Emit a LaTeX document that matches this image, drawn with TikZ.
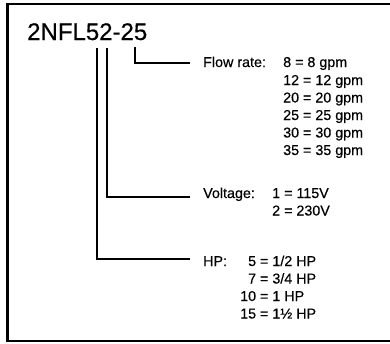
\documentclass[tikz,border=0pt]{standalone}
\usepackage{fontspec}
\setmainfont[FakeBold=0.4]{Liberation Sans}
\begin{document}
\begin{tikzpicture}[x=1pt,y=-1pt,
  lbl/.style={anchor=base west,inner sep=0pt,font=\fontsize{14.3}{17}\selectfont},
  conn/.style={line width=1.5pt},
  frame/.style={line width=2.5pt}]
\useasboundingbox (0,0) rectangle (390,343);
\clip (0,0) rectangle (390,343);
\draw[frame] (7.5,4) rectangle (400,341);
\node[anchor=base west,inner sep=0pt,font=\fontsize{24}{28}\selectfont] (title) at (27,40) {2NFL52-25};
% labels
\node[lbl] (flow) at (203,67) {Flow rate:};
\node[lbl] (f1) at (283,67) {8 = 8 gpm};
\node[lbl] (f2) at (283,85) {12 = 12 gpm};
\node[lbl] (f3) at (283,102.5) {20 = 20 gpm};
\node[lbl] (f4) at (283,120) {25 = 25 gpm};
\node[lbl] (f5) at (283,137.5) {30 = 30 gpm};
\node[lbl] (f6) at (283,155) {35 = 35 gpm};
\node[lbl] (volt) at (203,198) {Voltage:};
\node[lbl] (v1) at (272,198) {1 = 115V};
\node[lbl] (v2) at (272,215.5) {2 = 230V};
\node[lbl] (hp) at (203,266) {HP:};
\node[lbl] (h1) at (240,266) {\hphantom{1}5 = 1/2 HP};
\node[lbl] (h2) at (240,283.5) {\hphantom{1}7 = 3/4 HP};
\node[lbl] (h3) at (240,301) {10 = 1 HP};
\node[lbl] (h4) at (240,318.5) {15 = 1½ HP};
% connectors
\coordinate (flowTop) at (135,47);
\coordinate (flowEnd) at (190,63);
\coordinate (voltTop) at (107,48);
\coordinate (voltEnd) at (190,197);
\coordinate (hpTop) at (97,48);
\coordinate (hpEnd) at (190,259);
\draw[conn] (flowTop) |- (flowEnd);
\draw[conn] (voltTop) |- (voltEnd);
\draw[conn] (hpTop) |- (hpEnd);
\end{tikzpicture}
\end{document}
